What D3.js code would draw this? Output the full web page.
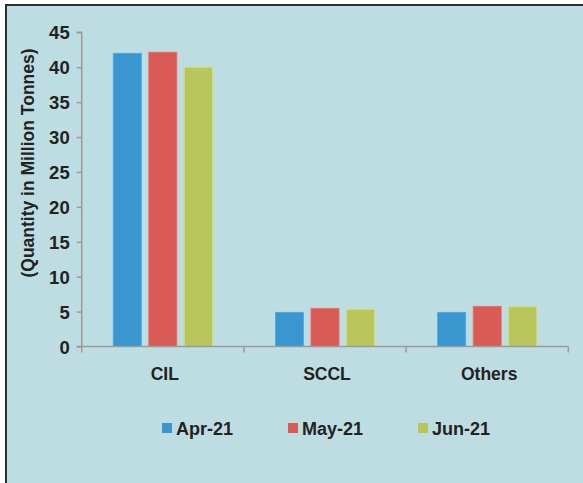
<!DOCTYPE html>
<html><head><meta charset="utf-8">
<script src="https://cdn.jsdelivr.net/npm/d3@7"></script>
<style>html,body{margin:0;padding:0;background:#fff}svg{display:block}text{font-family:"Liberation Sans",Arial,sans-serif;font-weight:bold;fill:#222}</style>
</head><body>
<svg id="c" width="583" height="483"></svg>
<script>
const categories = ["CIL", "SCCL", "Others"];
const seriesNames = ["Apr-21", "May-21", "Jun-21"];
const apr21 = [42.0, 4.9, 4.9];
const may21 = [42.15, 5.47, 5.76];
const jun21 = [40.0, 5.33, 5.7];
const colors = ["#3a96cf", "#d95b55", "#b8c65c"];
const yTicks = [0, 5, 10, 15, 20, 25, 30, 35, 40, 45];
const yLabel = "(Quantity in Million Tonnes)";

const seriesValues = [apr21, may21, jun21];
const svg = d3.select("#c");
svg.append("rect").attr("x", 6).attr("y", 6).attr("width", 577).attr("height", 477).attr("fill", "#bedde2");
svg.append("line").attr("x1", 5).attr("x2", 583).attr("y1", 5).attr("y2", 5).attr("stroke", "#2e2e2e").attr("stroke-width", 2);
svg.append("line").attr("x1", 6).attr("x2", 6).attr("y1", 4).attr("y2", 483).attr("stroke", "#2e2e2e").attr("stroke-width", 2);

const pLeft = 81.7, pRight = 568.3, pTop = 32.3, pBottom = 346.5;
const x0 = d3.scaleBand().domain(categories).range([pLeft, pRight]).padding(0);
const x1 = d3.scaleBand().domain(seriesNames).range([0, x0.bandwidth()]).paddingInner(0.21).paddingOuter(0.887);
const y = d3.scaleLinear().domain([0, 45]).range([pBottom, pTop]);

// bars
categories.forEach((c, ci) => {
  seriesNames.forEach((s, si) => {
    const v = seriesValues[si][ci];
    svg.append("rect")
      .attr("x", x0(c) + x1(s))
      .attr("y", y(v))
      .attr("width", x1.bandwidth())
      .attr("height", y(0) - y(v))
      .attr("fill", colors[si])
      .attr("stroke", d3.color(colors[si]).brighter(0.4))
      .attr("stroke-width", 0.8);
  });
});

// y axis
const yAxis = svg.append("g").attr("transform", `translate(${pLeft},0)`)
  .call(d3.axisLeft(y).tickValues(yTicks).tickSize(5).tickPadding(7));
yAxis.select(".domain").attr("stroke", "#9a9a9a").attr("stroke-width", 1.5).attr("d", `M-5,${pTop}H0V${pBottom}`);
yAxis.selectAll(".tick line").attr("stroke", "#9a9a9a").attr("stroke-width", 1.5);
yAxis.selectAll(".tick text").style("font-size", "18.5px").style("font-family", "'Liberation Sans',Arial,sans-serif").style("font-weight", "bold").attr("fill", "#222").attr("dy", "0.36em");

// x axis
const boundaries = categories.map(c => x0(c)).concat([pRight]);
const xg = svg.append("g");
xg.append("line").attr("x1", pLeft - 5).attr("x2", pRight).attr("y1", pBottom).attr("y2", pBottom).attr("stroke", "#9a9a9a").attr("stroke-width", 1.5);
xg.selectAll("line.t").data(boundaries).enter().append("line")
  .attr("x1", d => d).attr("x2", d => d).attr("y1", pBottom).attr("y2", pBottom + 6)
  .attr("stroke", "#9a9a9a").attr("stroke-width", 1.5);
xg.selectAll("text").data(categories).enter().append("text")
  .attr("x", d => x0(d) + x0.bandwidth() / 2 + 2)
  .attr("y", 379.5)
  .attr("text-anchor", "middle")
  .style("font-size", "17.5px")
  .text(d => d);

// y label
svg.append("text")
  .attr("transform", "translate(34,163) rotate(-90)")
  .attr("text-anchor", "middle")
  .style("font-size", "17.5px")
  .text(yLabel);

// legend
const legX = [162, 288, 418];
const leg = svg.append("g");
seriesNames.forEach((s, i) => {
  leg.append("rect").attr("x", legX[i]).attr("y", 423).attr("width", 10).attr("height", 10).attr("fill", colors[i]);
  leg.append("text").attr("x", legX[i] + 14).attr("y", 435).style("font-size", "18px").text(s);
});
</script>
</body></html>
